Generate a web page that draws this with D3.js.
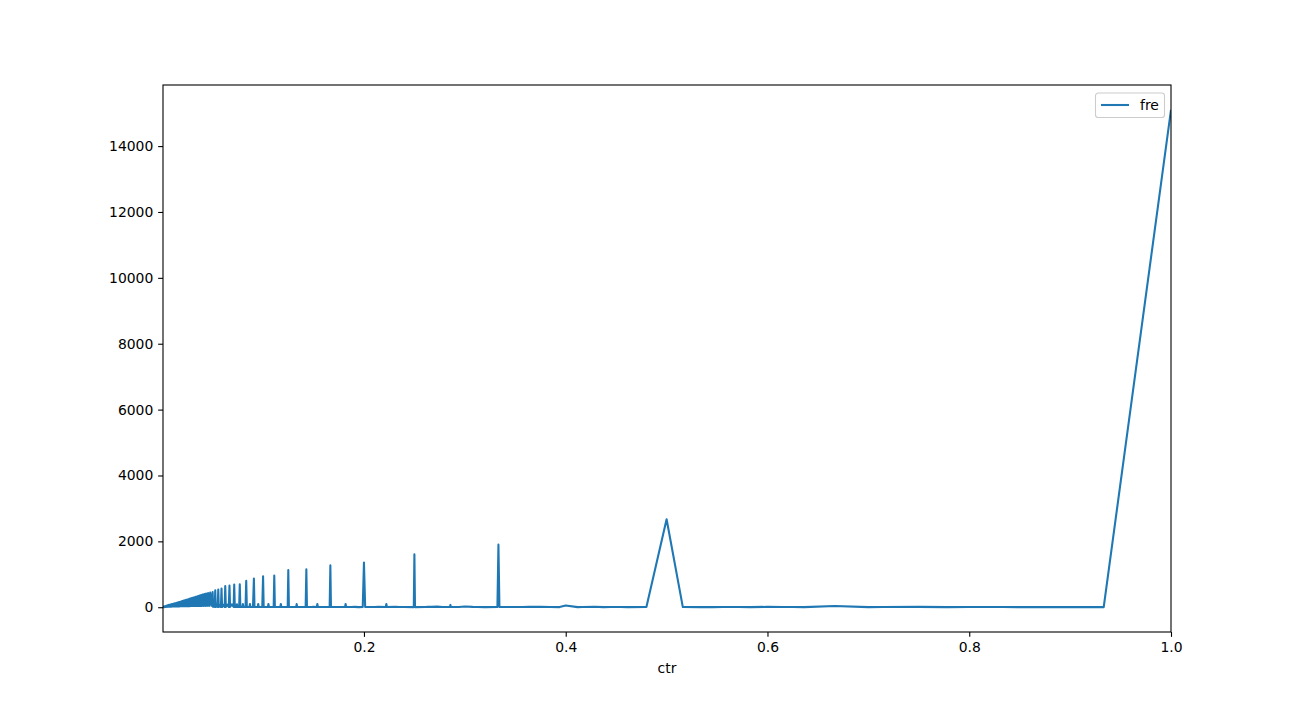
<!DOCTYPE html>
<html>
<head>
<meta charset="utf-8">
<script src="https://cdn.jsdelivr.net/npm/d3@7"></script>
<style>
  body { margin: 0; background: #fff; }
  svg { display: block; }
  text { font-family: "DejaVu Sans", sans-serif; }
</style>
</head>
<body>
<div id="chart"></div>
<script>
// dense ramp below ctr = 0.05 (peaks at 1/n, lows in between)
const rampCtr = [
  0.0008, 0.0012, 0.0015, 0.0019, 0.0022, 0.0026, 0.0029, 0.0033, 0.0036, 0.0040,
  0.0043, 0.0047, 0.0050, 0.0054, 0.0057, 0.0061, 0.0064, 0.0068, 0.0071, 0.0075,
  0.0078, 0.0082, 0.0085, 0.0089, 0.0092, 0.0096, 0.0099, 0.0103, 0.0106, 0.0110,
  0.0113, 0.0117, 0.0120, 0.0124, 0.0127, 0.0131, 0.0134, 0.0138, 0.0141, 0.0145,
  0.0148, 0.0152, 0.0155, 0.0159, 0.0162, 0.0167, 0.0170, 0.0172, 0.0175, 0.0179,
  0.0182, 0.0185, 0.0189, 0.0192, 0.0196, 0.0200, 0.0204, 0.0208, 0.0213, 0.0217,
  0.0222, 0.0227, 0.0233, 0.0238, 0.0244, 0.0250, 0.0253, 0.0256, 0.0260, 0.0263,
  0.0267, 0.0270, 0.0274, 0.0278, 0.0282, 0.0286, 0.0290, 0.0294, 0.0299, 0.0303,
  0.0308, 0.0313, 0.0317, 0.0323, 0.0328, 0.0333, 0.0339, 0.0345, 0.0351, 0.0357,
  0.0364, 0.0370, 0.0377, 0.0385, 0.0392, 0.0400, 0.0408, 0.0417, 0.0426, 0.0435,
  0.0444, 0.0455, 0.0465, 0.0476, 0.0488
];
const rampFre = [
  3, 14, 4, 22, 6, 30, 8, 38, 10, 46,
  12, 52, 12, 58, 14, 64, 14, 70, 16, 76,
  16, 82, 18, 88, 18, 93, 20, 99, 20, 105,
  22, 110, 22, 116, 22, 122, 24, 128, 24, 134,
  24, 140, 26, 146, 26, 156, 26, 160, 28, 168,
  28, 174, 30, 180, 30, 188, 30, 196, 32, 205,
  32, 214, 34, 224, 34, 235, 34, 241, 34, 248,
  34, 255, 34, 262, 36, 270, 36, 278, 36, 287,
  36, 296, 38, 305, 38, 316, 38, 328, 38, 340,
  40, 352, 40, 368, 40, 385, 40, 400, 40, 415,
  42, 432, 42, 448, 44
];

// single spikes from 1/20 up to 1/2
const spikeCtr = [
  0.0500, 0.0505, 0.0513, 0.0521, 0.0526, 0.0531, 0.0541, 0.0550, 0.0556, 0.0561,
  0.0571, 0.0582, 0.0588, 0.0594, 0.0606, 0.0619, 0.0625, 0.0631, 0.0645, 0.0660,
  0.0667, 0.0673, 0.0690, 0.0708, 0.0714, 0.0720, 0.0736, 0.0741, 0.0746, 0.0763,
  0.0769, 0.0775, 0.0795, 0.0800, 0.0805, 0.0826, 0.0833, 0.0839, 0.0865, 0.0870,
  0.0875, 0.0900, 0.0909, 0.0915, 0.0947, 0.0952, 0.0957, 0.0992, 0.1000, 0.1006,
  0.1048, 0.1053, 0.1058, 0.1081, 0.1105, 0.1111, 0.1117, 0.1171, 0.1176, 0.1181,
  0.1220, 0.1244, 0.1250, 0.1256, 0.1304, 0.1328, 0.1333, 0.1338, 0.1364, 0.1422,
  0.1429, 0.1435, 0.1481, 0.1500, 0.1533, 0.1538, 0.1543, 0.1579, 0.1600, 0.1660,
  0.1667, 0.1673, 0.1739, 0.1765, 0.1813, 0.1818, 0.1823, 0.1875, 0.1905, 0.1950,
  0.1988, 0.2000, 0.2012, 0.2083, 0.2105, 0.2143, 0.2217, 0.2222, 0.2227, 0.2308,
  0.2353, 0.2400, 0.2494, 0.2500, 0.2506, 0.2609, 0.2632, 0.2667, 0.2727, 0.2778,
  0.2852, 0.2857, 0.2862, 0.2941, 0.3000, 0.3077, 0.3125, 0.3200, 0.3323, 0.3333,
  0.3343, 0.3500, 0.3571, 0.3636, 0.3750, 0.3846, 0.3939, 0.4000, 0.4118, 0.4167,
  0.4286, 0.4375, 0.4444, 0.4545, 0.4615, 0.4800, 0.5000
];
const spikeFre = [
  463, 10, 60, 10, 515, 10, 65, 10, 540, 10,
  70, 10, 570, 10, 75, 10, 640, 10, 80, 8,
  660, 8, 85, 8, 690, 8, 8, 90, 8, 8,
  700, 6, 6, 95, 6, 6, 800, 6, 6, 100,
  6, 6, 870, 6, 6, 100, 6, 6, 940, 6,
  6, 100, 6, 6, 6, 960, 6, 6, 100, 6,
  6, 5, 1130, 5, 8, 6, 95, 6, 8, 5,
  1150, 5, 6, 12, 6, 100, 6, 8, 6, 5,
  1270, 5, 6, 8, 6, 100, 6, 8, 10, 4,
  5, 1360, 5, 6, 8, 10, 6, 100, 6, 15,
  6, 5, 4, 1610, 4, 5, 10, 12, 18, 6,
  6, 70, 6, 6, 22, 10, 6, 4, 5, 1900,
  5, 6, 8, 10, 14, 6, 4, 50, 4, 6,
  16, 4, 6, 5, 4, 5, 2670
];

// sparse tail above 1/2
const tailCtr = [
  0.5161, 0.5333, 0.5455, 0.5556, 0.5714, 0.5833, 0.6000, 0.6154, 0.6250, 0.6364,
  0.6667, 0.7000, 0.7143, 0.7500, 0.7778, 0.8000, 0.8333, 0.8571, 0.8750, 0.9000,
  0.9333, 1.0000
];
const tailFre = [
  5, 4, 4, 8, 6, 4, 12, 5, 6, 4,
  40, 4, 5, 10, 4, 8, 5, 3, 3, 3,
  3, 15100
];

const xTicks = [0.2, 0.4, 0.6, 0.8, 1.0];
const yTicks = [0, 2000, 4000, 6000, 8000, 10000, 12000, 14000];

const ctr = rampCtr.concat(spikeCtr, tailCtr);
const fre = rampFre.concat(spikeFre, tailFre);
const data = ctr.map((c, i) => ({ctr: c, fre: fre[i]}))
  .sort((a, b) => a.ctr - b.ctr);

const W = 1301, H = 710;
const margin = {top: 85, right: 130, bottom: 78, left: 163};
const innerW = W - margin.left - margin.right;
const innerH = H - margin.top - margin.bottom;

const svg = d3.select("#chart").append("svg")
  .attr("width", W)
  .attr("height", H);

svg.append("rect").attr("width", W).attr("height", H).attr("fill", "#fff");

const g = svg.append("g").attr("transform", `translate(${margin.left},${margin.top})`);

// x limits tight to the data, y padded 5% like matplotlib
const x = d3.scaleLinear()
  .domain(d3.extent(data, d => d.ctr))
  .range([0, innerW]);

const [fMin, fMax] = d3.extent(data, d => d.fre);
const pad = (fMax - fMin) * 0.05;
const y = d3.scaleLinear()
  .domain([fMin - pad, fMax + pad])
  .range([innerH, 0]);

const tickLen = 4.86;
const fontPx = 13.9;

const xAxis = g.append("g")
  .attr("transform", `translate(0,${innerH})`)
  .call(d3.axisBottom(x).tickValues(xTicks).tickFormat(d3.format(".1f"))
    .tickSize(tickLen).tickPadding(tickLen).tickSizeOuter(0));

const yAxis = g.append("g")
  .call(d3.axisLeft(y).tickValues(yTicks).tickFormat(d3.format("d"))
    .tickSize(tickLen).tickPadding(tickLen).tickSizeOuter(0));

[xAxis, yAxis].forEach(a => {
  a.select(".domain").remove();
  a.selectAll(".tick line").attr("stroke", "#000").attr("stroke-width", 1.1);
  a.selectAll(".tick text")
    .attr("fill", "#000")
    .style("font-family", '"DejaVu Sans", sans-serif')
    .style("font-size", fontPx + "px");
});

// clip the line to the axes box
g.append("clipPath").attr("id", "clip")
  .append("rect").attr("width", innerW).attr("height", innerH);

const line = d3.line()
  .x(d => x(d.ctr))
  .y(d => y(d.fre));

g.append("path")
  .datum(data)
  .attr("clip-path", "url(#clip)")
  .attr("fill", "none")
  .attr("stroke", "#1f77b4")
  .attr("stroke-width", 2.08)
  .attr("stroke-linejoin", "round")
  .attr("d", line);

// frame
g.append("rect")
  .attr("width", innerW)
  .attr("height", innerH)
  .attr("fill", "none")
  .attr("stroke", "#000")
  .attr("stroke-width", 1.1);

// x label
g.append("text")
  .attr("x", innerW / 2)
  .attr("y", innerH + 41)
  .attr("text-anchor", "middle")
  .style("font-size", fontPx + "px")
  .text("ctr");

// legend
const legend = g.append("g").attr("transform", `translate(${innerW - 76},8)`);
legend.append("rect")
  .attr("x", 0.5).attr("y", 0)
  .attr("width", 69).attr("height", 24.5)
  .attr("rx", 2.8)
  .attr("fill", "#fff").attr("fill-opacity", 0.8)
  .attr("stroke", "#ccc").attr("stroke-width", 1.1);
legend.append("line")
  .attr("x1", 6).attr("x2", 34)
  .attr("y1", 12).attr("y2", 12)
  .attr("stroke", "#1f77b4").attr("stroke-width", 2.08);
legend.append("text")
  .attr("x", 45)
  .attr("y", 17)
  .style("font-size", fontPx + "px")
  .text("fre");
</script>
</body>
</html>
